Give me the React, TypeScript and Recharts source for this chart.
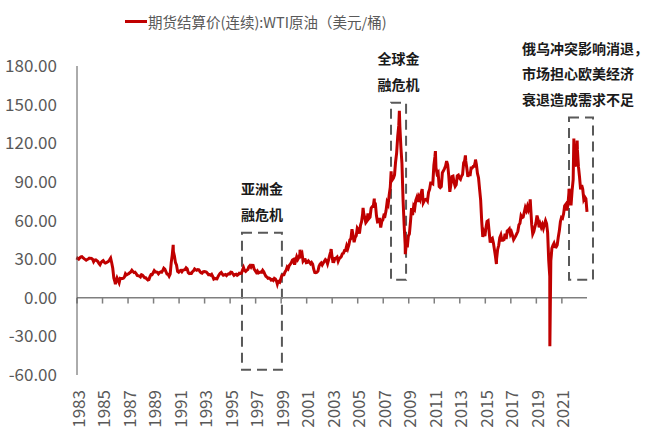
import React from 'react'
import { Line, LineChart, ReferenceArea, ReferenceLine, XAxis, YAxis } from 'recharts'

// WTI futures settlement, monthly averages (USD/bbl), one row per year, Jan..Dec
const wti1983to1989: (number | null)[][] = [
  [null, null, null, 30.6, 30.0, 31.0, 31.7, 31.9, 31.1, 30.4, 29.8, 29.2],
  [29.7, 30.1, 30.8, 30.6, 30.5, 29.9, 28.0, 29.3, 29.5, 28.8, 28.1, 26.6],
  [25.6, 27.3, 28.2, 28.8, 27.6, 27.0, 27.3, 27.8, 28.3, 29.5, 30.8, 27.2],
  [22.93, 15.46, 12.61, 12.84, 15.38, 13.43, 11.59, 15.1, 14.87, 14.9, 15.22, 16.11],
  [18.65, 17.75, 18.3, 18.68, 19.44, 20.07, 21.34, 20.31, 19.53, 19.86, 18.85, 17.28],
  [17.13, 16.8, 16.2, 17.86, 17.42, 16.53, 15.5, 15.52, 14.54, 13.77, 14.14, 16.38],
  [18.02, 17.94, 19.48, 21.07, 20.12, 20.05, 19.78, 18.58, 19.59, 20.1, 19.86, 21.1],
]
const wti1990s: (number | null)[][] = [
  [22.86, 22.11, 20.39, 18.43, 18.2, 16.7, 18.45, 27.31, 33.51, 36.04, 32.33, 27.28],
  [25.23, 20.48, 19.9, 20.83, 21.23, 20.19, 21.4, 21.69, 21.89, 23.23, 22.46, 19.5],
  [18.79, 19.01, 18.92, 20.23, 20.98, 22.39, 21.78, 21.34, 21.88, 21.69, 20.34, 19.41],
  [19.03, 20.09, 20.32, 20.25, 19.95, 19.09, 17.89, 18.01, 17.5, 18.15, 16.61, 14.52],
  [15.03, 14.78, 14.68, 16.42, 17.89, 19.06, 19.66, 18.38, 17.45, 17.72, 18.07, 17.16],
  [18.04, 18.57, 18.54, 19.9, 19.74, 18.45, 17.33, 18.02, 18.23, 17.43, 17.99, 19.03],
  [18.85, 19.09, 21.33, 23.5, 21.17, 20.42, 21.3, 21.9, 23.97, 24.88, 23.71, 25.23],
  [25.13, 22.18, 20.97, 19.7, 20.82, 19.26, 19.66, 19.95, 19.8, 21.33, 20.19, 18.33],
  [16.72, 16.06, 15.12, 15.35, 14.91, 13.72, 14.17, 13.47, 15.03, 14.46, 13.0, 11.35],
  [12.52, 12.01, 14.68, 17.31, 17.72, 17.92, 20.1, 21.28, 23.8, 22.69, 25.0, 26.1],
]
const wti2000s: (number | null)[][] = [
  [27.26, 29.37, 29.84, 25.72, 28.79, 31.82, 29.7, 31.26, 33.88, 33.11, 34.42, 28.44],
  [29.59, 29.61, 27.25, 27.49, 28.63, 27.6, 26.43, 27.37, 26.2, 22.17, 19.64, 19.39],
  [19.72, 20.72, 24.53, 26.18, 27.04, 25.52, 26.97, 28.39, 29.66, 28.84, 26.35, 29.46],
  [32.95, 35.83, 33.51, 28.17, 28.11, 30.66, 30.75, 31.57, 28.31, 30.34, 31.11, 32.13],
  [34.31, 34.69, 36.74, 36.75, 40.28, 38.03, 40.78, 44.9, 45.94, 53.28, 48.47, 43.15],
  [46.84, 48.15, 54.19, 52.98, 49.83, 56.35, 59.0, 64.99, 65.59, 62.26, 58.32, 59.41],
  [65.49, 61.63, 62.69, 69.44, 70.84, 70.95, 74.41, 73.04, 63.8, 58.89, 59.08, 61.96],
  [54.51, 59.28, 60.44, 63.98, 63.46, 67.49, 74.12, 72.36, 79.92, 85.8, 94.77, 91.69],
  [92.97, 95.39, 105.45, 112.58, 125.4, 133.88, 133.37, 116.67, 104.11, 76.61, 57.31, 41.12],
  [41.71, 39.09, 47.94, 49.65, 59.03, 69.64, 64.15, 71.05, 69.41, 75.72, 77.99, 74.47],
]
const wti2010s: (number | null)[][] = [
  [78.33, 76.39, 81.2, 84.29, 73.74, 75.34, 76.32, 76.6, 75.24, 81.89, 84.25, 89.15],
  [89.17, 88.58, 102.86, 109.53, 100.9, 96.26, 97.3, 86.33, 85.52, 86.32, 97.16, 98.56],
  [100.27, 102.2, 106.16, 103.32, 94.66, 82.3, 87.9, 94.13, 94.51, 89.49, 86.53, 87.86],
  [94.76, 95.31, 92.94, 92.02, 94.51, 95.77, 104.67, 106.57, 106.29, 100.54, 93.86, 97.63],
  [94.62, 100.82, 100.8, 102.07, 102.18, 105.79, 103.59, 96.54, 93.21, 84.4, 75.79, 59.29],
  [47.22, 50.58, 47.82, 54.45, 59.27, 59.82, 50.9, 42.87, 45.48, 46.22, 42.44, 37.19],
  [31.68, 30.32, 37.55, 40.75, 46.71, 48.76, 44.65, 44.72, 45.18, 49.78, 45.66, 51.97],
  [52.5, 53.47, 49.33, 51.06, 48.48, 45.18, 46.63, 48.04, 49.82, 51.58, 56.64, 57.88],
  [63.7, 62.23, 62.73, 66.25, 69.98, 67.87, 70.98, 68.06, 70.23, 70.75, 56.96, 49.52],
  [51.38, 54.95, 58.15, 63.86, 60.83, 54.66, 57.35, 54.81, 56.95, 53.96, 57.03, 59.88],
]
const wti2020s: (number | null)[][] = [
  [57.52, 50.54, 29.21, 16.55, 28.56, 38.31, 40.71, 42.34, 39.63, 39.4, 40.94, 47.02],
  [52.0, 59.04, 62.33, 61.72, 65.17, 71.38, 72.49, 67.73, 71.65, 81.48, 79.15, 71.71],
  [83.22, 91.64, 108.5, 101.78, 109.55, 114.84, 101.62, 93.67, 84.26, 87.55, 84.37, 76.44],
  [78.12, 76.83, null, null, null, null, null, null, null, null, null, null],
]

// single-day settlements that stand out from the monthly averages [date as fractional year, price]
const dailyPoints: [number, number][] = [
  [1983.24, 29.44],
  [1986.25, 10.42],
  [1990.78, 41.07],
  [1998.94, 10.72],
  [2000.72, 37.2],
  [2003.16, 37.83],
  [2005.66, 69.81],
  [2006.54, 77.03],
  [2007.86, 98.18],
  [2008.505, 145.29],
  [2008.97, 33.87],
  [2011.33, 113.93],
  [2013.68, 110.53],
  [2014.47, 107.26],
  [2016.11, 26.21],
  [2018.76, 76.41],
  [2020.3, -37.63],
  [2021.8, 84.65],
  [2022.18, 123.7],
  [2022.44, 122.11],
  [2023.21, 66.74],
]

const tickYears = [1983, 1985, 1987, 1989, 1991, 1993, 1995, 1997, 1999, 2001, 2003, 2005, 2007, 2009, 2011, 2013, 2015, 2017, 2019, 2021]
const yTicks = [-60, -30, 0, 30, 60, 90, 120, 150, 180]

const firstYear = 1983
const tickOffset = 0.24 // axis ticks fall on the first trading day, 30 Mar
const xDomain = [1983.24, 2023.21]

const data = [...wti1983to1989, ...wti1990s, ...wti2000s, ...wti2010s, ...wti2020s]
  .flatMap((row, i) =>
    row.flatMap((v, m) => (v == null ? [] : [{ t: firstYear + i + (m + 0.5) / 12, price: v }])),
  )
  .concat(dailyPoints.map(([t, price]) => ({ t, price })))
  .sort((a, b) => a.t - b.t)

const FONT = '"Noto Sans CJK SC", "Liberation Sans", sans-serif'
const GREY = '#595959'
const RED = '#C00000'

const notes = [
  { x1: 1996.17, x2: 1999.3, y1: -56, y2: 50.5, lines: ['亚洲金', '融危机'] },
  { x1: 2007.85, x2: 2009.03, y1: 14, y2: 151.5, lines: ['全球金', '融危机'] },
  {
    x1: 2021.8,
    x2: 2023.68,
    y1: 14,
    y2: 140,
    lines: ['俄乌冲突影响消退，', '市场担心欧美经济', '衰退造成需求不足'],
    left: -47,
  },
]

function NoteLabel({ viewBox, lines, left }: any) {
  const { x, y, width } = viewBox
  const start = left != null
  return (
    <g>
      {lines.map((line: string, i: number) => (
        <text
          key={i}
          x={start ? x + left : x + width / 2}
          y={y - 19 - (lines.length - 1 - i) * 25.5}
          textAnchor={start ? 'start' : 'middle'}
          dominantBaseline="central"
          fontFamily={FONT}
          fontSize={14}
          fontWeight={700}
          fill="#1a1a1a"
        >
          {line}
        </text>
      ))}
    </g>
  )
}

function YearTick({ x, y, payload }: any) {
  return (
    <text
      x={x}
      y={y}
      transform={`rotate(-90, ${x}, ${y})`}
      textAnchor="end"
      dominantBaseline="central"
      fontFamily={FONT}
      fontSize={17}
      fill={GREY}
    >
      {Math.floor(payload.value)}
    </text>
  )
}

export default function App() {
  return (
    <div style={{ position: 'absolute', left: 0, top: 0, width: 647, height: 441, background: '#fff' }}>
      <div
        style={{
          position: 'absolute',
          left: 125,
          top: 11,
          display: 'flex',
          alignItems: 'center',
          fontFamily: FONT,
          fontSize: 14.5,
          color: GREY,
          whiteSpace: 'nowrap',
        }}
      >
        <span style={{ display: 'inline-block', width: 22, height: 3, background: RED, marginRight: 1 }} />
        期货结算价(连续):WTI原油（美元/桶)
      </div>
      <LineChart width={647} height={441} data={data} margin={{ top: 66, right: 60, bottom: 0, left: 0 }}>
        <XAxis
          dataKey="t"
          type="number"
          domain={xDomain}
          ticks={tickYears.map((y) => y + tickOffset)}
          interval={0}
          height={66}
          axisLine={false}
          tickLine={false}
          tickSize={0}
          tickMargin={15}
          tick={<YearTick />}
        />
        <YAxis
          type="number"
          domain={[-60, 180]}
          ticks={yTicks}
          interval={0}
          width={77}
          tickSize={0}
          tickMargin={20}
          tickLine={false}
          axisLine={{ stroke: GREY, strokeWidth: 1 }}
          tickFormatter={(v: number) => v.toFixed(2)}
          tick={{ fill: GREY, fontSize: 17, fontFamily: FONT }}
        />
        <ReferenceLine y={0} stroke="#7f7f7f" strokeWidth={1.5} />
        {tickYears.map((yr) => (
          <ReferenceLine
            key={yr}
            segment={[
              { x: yr + tickOffset, y: 0 },
              { x: yr + tickOffset, y: -4.5 },
            ]}
            stroke="#7f7f7f"
            strokeWidth={1.5}
          />
        ))}
        <Line
          type="linear"
          dataKey="price"
          stroke={RED}
          strokeWidth={3}
          dot={false}
          isAnimationActive={false}
        />
        {notes.map((n, i) => (
          <ReferenceArea
            key={i}
            x1={n.x1}
            x2={n.x2}
            y1={n.y1}
            y2={n.y2}
            ifOverflow="visible"
            fill="none"
            stroke={GREY}
            strokeWidth={2}
            strokeDasharray="10 6"
            label={<NoteLabel lines={n.lines} left={n.left} />}
          />
        ))}
      </LineChart>
    </div>
  )
}
